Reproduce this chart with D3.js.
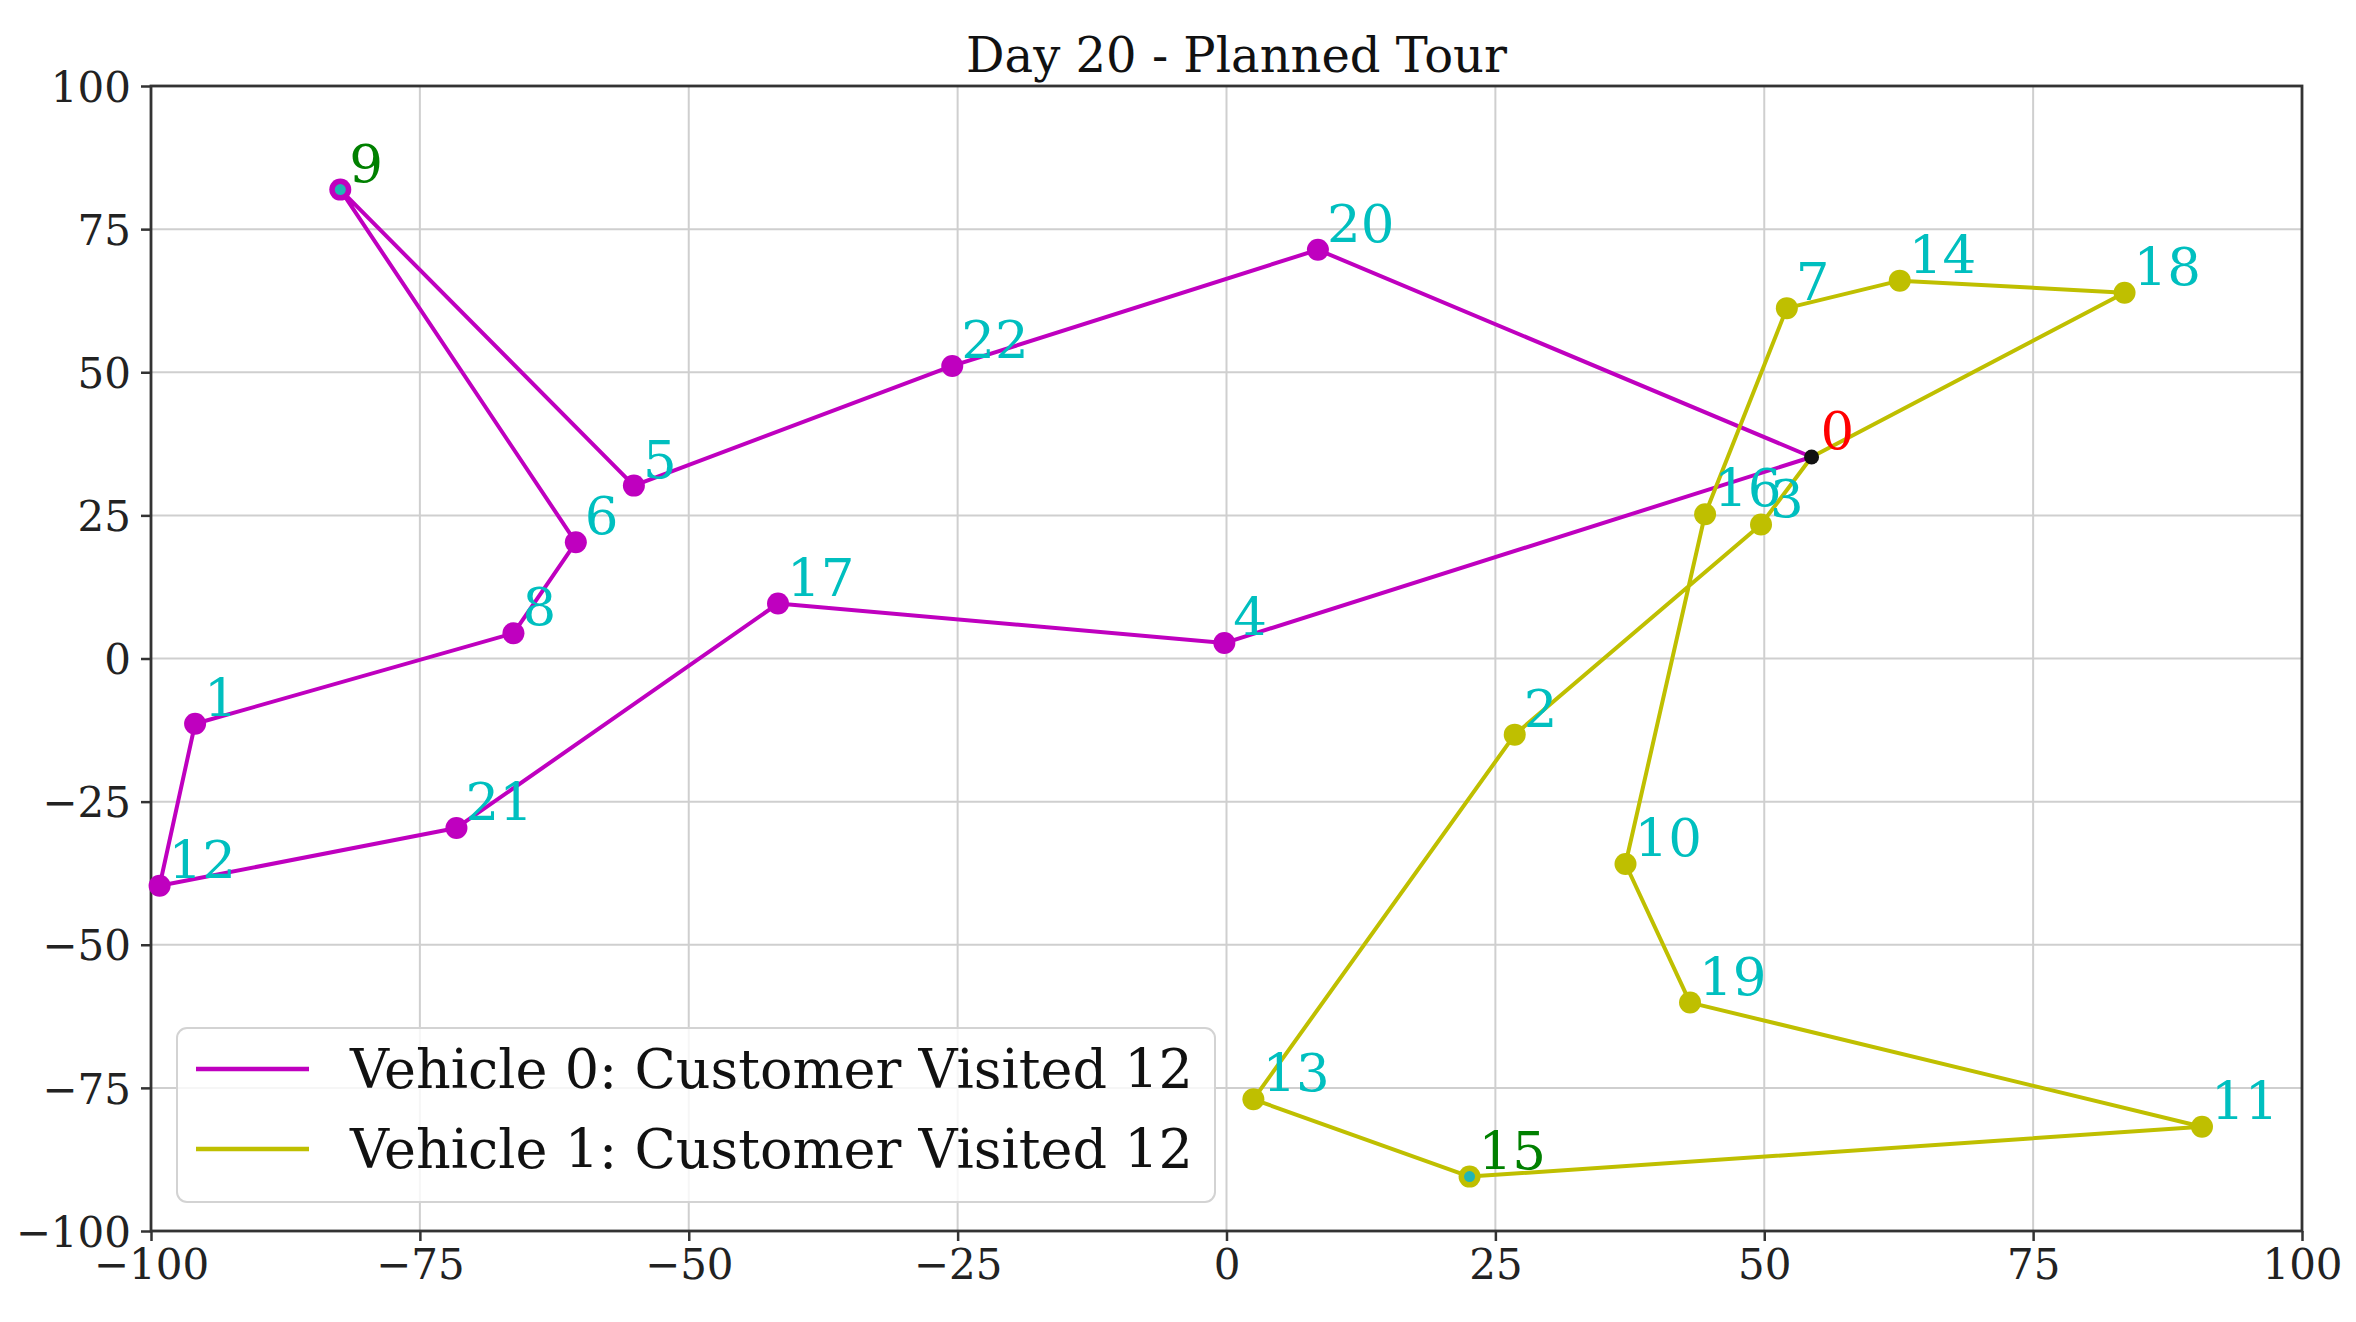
<!DOCTYPE html>
<html>
<head>
<meta charset="utf-8">
<script src="https://cdn.jsdelivr.net/npm/d3@7"></script>
<style>
  html, body { margin: 0; padding: 0; background: #ffffff; }
  svg { display: block; }
  text { font-family: "DejaVu Serif", serif; }
</style>
</head>
<body>
<svg id="chart" width="2356" height="1322"></svg>
<script>
// ---------------- data ----------------
const chartTitle = "Day 20 - Planned Tour";
const nodeIds = [0, 1, 2, 3, 4, 5, 6, 7, 8, 9, 10, 11, 12, 13, 14, 15, 16, 17, 18, 19, 20, 21, 22];
const nodeX = [54.4, -95.9, 26.8, 49.7, -0.2, -55.1, -60.5, 52.1, -66.3, -82.4, 37.1, 90.7, -99.2, 2.5, 62.6, 22.6, 44.5, -41.7, 83.5, 43.1, 8.5, -71.6, -25.5];
const nodeY = [35.2, -11.4, -13.3, 23.4, 2.7, 30.2, 20.3, 61.2, 4.4, 81.9, -35.9, -81.8, -39.7, -77.0, 66.0, -90.5, 25.2, 9.6, 63.9, -60.1, 71.4, -29.6, 51.1];
const route0 = [0, 20, 22, 5, 9, 6, 8, 1, 12, 21, 17, 4, 0];
const route1 = [0, 18, 14, 7, 16, 10, 19, 11, 15, 13, 2, 3, 0];
const routes = [route0, route1];
const routeNames = ["Vehicle 0: Customer Visited 12", "Vehicle 1: Customer Visited 12"];
const routeColors = ["#bf00bf", "#bfbf00"];
const depotId = 0;
const highlightIds = [9, 15];
const xTicks = [-100, -75, -50, -25, 0, 25, 50, 75, 100];
const yTicks = [-100, -75, -50, -25, 0, 25, 50, 75, 100];

// ---------------- layout ----------------
const plot = { left: 151, right: 2302, top: 86, bottom: 1231 };
const svg = d3.select("#chart");

const x = d3.scaleLinear().domain([-100, 100]).range([plot.left, plot.right]);
const y = d3.scaleLinear().domain([-100, 100]).range([plot.bottom, plot.top]);

const fmt = v => (v < 0 ? "\u2212" + Math.abs(v) : String(v));

// grid
const grid = svg.append("g");
grid.selectAll("line.gx").data(xTicks).join("line")
  .attr("x1", d => x(d)).attr("x2", d => x(d))
  .attr("y1", plot.top).attr("y2", plot.bottom)
  .attr("stroke", "#cfcfcf").attr("stroke-width", 2);
grid.selectAll("line.gy").data(yTicks).join("line")
  .attr("y1", d => y(d)).attr("y2", d => y(d))
  .attr("x1", plot.left).attr("x2", plot.right)
  .attr("stroke", "#cfcfcf").attr("stroke-width", 2);

// axes
const xAxis = d3.axisBottom(x).tickValues(xTicks).tickFormat(fmt).tickSize(10).tickPadding(8);
const yAxis = d3.axisLeft(y).tickValues(yTicks).tickFormat(fmt).tickSize(10).tickPadding(10);

const gx = svg.append("g").attr("transform", `translate(0,${plot.bottom})`).call(xAxis);
const gy = svg.append("g").attr("transform", `translate(${plot.left},0)`).call(yAxis);
[gx, gy].forEach(g => {
  g.select(".domain").remove();
  g.selectAll(".tick line").attr("stroke", "#333").attr("stroke-width", 2.5);
  g.selectAll(".tick text").attr("fill", "#222").style("font-size", "42px")
    .style("font-family", "'DejaVu Serif', serif");
});
gy.selectAll(".tick text").attr("dy", "0.36em");

// frame
svg.append("rect")
  .attr("x", plot.left).attr("y", plot.top)
  .attr("width", plot.right - plot.left).attr("height", plot.bottom - plot.top)
  .attr("fill", "none").attr("stroke", "#333").attr("stroke-width", 2.8);

// title
svg.append("text")
  .attr("x", (plot.left + plot.right) / 2 + 10).attr("y", 72)
  .attr("text-anchor", "middle")
  .style("font-size", "48px").attr("fill", "#111")
  .text(chartTitle);

// routes
const line = d3.line().x(id => x(nodeX[id])).y(id => y(nodeY[id]));
const marks = svg.append("g");
routes.forEach((r, i) => {
  marks.append("path").datum(r)
    .attr("d", line)
    .attr("fill", "none")
    .attr("stroke", routeColors[i])
    .attr("stroke-width", 4)
    .attr("stroke-linejoin", "round");
  marks.selectAll(null).data(r.filter(id => id !== depotId)).join("circle")
    .attr("cx", id => x(nodeX[id])).attr("cy", id => y(nodeY[id]))
    .attr("r", 11).attr("fill", routeColors[i]);
});

// highlighted customers (inner cyan dot)
marks.selectAll(null).data(highlightIds).join("circle")
  .attr("cx", id => x(nodeX[id])).attr("cy", id => y(nodeY[id]))
  .attr("r", 5.5).attr("fill", "#1fb5b5");

// depot
marks.append("circle")
  .attr("cx", x(nodeX[depotId])).attr("cy", y(nodeY[depotId]))
  .attr("r", 7.5).attr("fill", "#111");

// node labels
const labelColor = id => id === depotId ? "#ff0000" : (highlightIds.includes(id) ? "#008000" : "#00bfbf");
svg.append("g").selectAll("text").data(nodeIds).join("text")
  .attr("x", id => x(nodeX[id]) + 9)
  .attr("y", id => y(nodeY[id]) - 8)
  .attr("fill", labelColor)
  .style("font-size", "53px")
  .text(id => id);

// legend
const lg = svg.append("g");
lg.append("rect")
  .attr("x", 177).attr("y", 1028).attr("width", 1038).attr("height", 174)
  .attr("rx", 10).attr("ry", 10)
  .attr("fill", "#ffffff").attr("fill-opacity", 0.8)
  .attr("stroke", "#d3d3d3").attr("stroke-width", 2);
routeNames.forEach((name, i) => {
  const cy = 1069 + i * 80;
  lg.append("line")
    .attr("x1", 196).attr("x2", 309).attr("y1", cy).attr("y2", cy)
    .attr("stroke", routeColors[i]).attr("stroke-width", 4.5);
  lg.append("text")
    .attr("x", 350).attr("y", cy + 19)
    .style("font-size", "54px").attr("fill", "#111")
    .text(name);
});
</script>
</body>
</html>
